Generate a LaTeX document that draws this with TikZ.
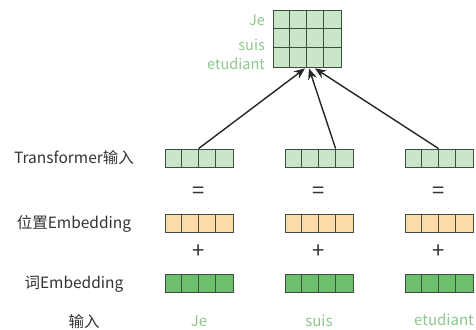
\documentclass[tikz,border=0pt]{standalone}
\usepackage{fontspec}
\setmainfont{Noto Sans CJK SC}
\usetikzlibrary{calc,arrows.meta}
\definecolor{lg}{HTML}{C9E6C9}
\definecolor{og}{HTML}{FDDCAA}
\definecolor{dg}{HTML}{6DBE6D}
\definecolor{bordc}{HTML}{3F4F3F}
\definecolor{txt}{HTML}{333333}
\definecolor{wordc}{HTML}{8CC78C}
\begin{document}
\begin{tikzpicture}[x=1pt,y=-1pt,
  bar/.style={draw=bordc, line width=0.8pt, minimum width=68pt, minimum height=18pt, inner sep=0pt},
  lab/.style={text=txt, font=\fontsize{15.5}{17}\selectfont, inner sep=0pt},
  word/.style={text=wordc, font=\fontsize{15}{17}\selectfont, inner sep=0pt},
  oword/.style={text=wordc, font=\fontsize{14.5}{16}\selectfont, inner sep=0pt},
  op/.style={text=txt, font=\fontsize{22}{24}\selectfont, inner sep=0pt},
  arr/.style={draw=black!85, line width=1.4pt, -{Stealth[length=11pt,width=9pt]}}]
\useasboundingbox (0,0) rectangle (476,329);
% top matrix
\node[bar, fill=lg, minimum height=57pt] (m) at (307,38.5) {};
\foreach \i in {1,2,3}
  \draw[bordc, line width=0.8pt] ($(m.north west)+(17*\i,0)$) -- ($(m.south west)+(17*\i,0)$);
\foreach \j in {1,2}
  \draw[bordc, line width=0.8pt] ($(m.north west)+(0,19*\j)$) -- ($(m.north east)+(0,19*\j)$);
\node[oword, anchor=east] (oje) at (265,20) {Je};
\node[oword, anchor=east] (osuis) at (265,45) {suis};
\node[oword, anchor=east] (oetu) at (265,64) {etudiant};
% rows of bars
\foreach \n/\x in {1/199,2/319,3/439}{
  \node[bar, fill=lg] (t\n) at (\x,158) {};
  \node[bar, fill=og] (p\n) at (\x,223) {};
  \node[bar, fill=dg] (w\n) at (\x,283) {};
  \foreach \b in {t,p,w}
    \foreach \i in {1,2,3}
      \draw[bordc, line width=0.8pt] ($(\b\n.north west)+(17*\i,0)$) -- ($(\b\n.south west)+(17*\i,0)$);
  \node[op] (eq\n) at (\x,193) {=};
  \node[op] (pl\n) at (\x,252) {+};
}
% words
\node[word] (wje) at (199,321) {Je};
\node[word] (wsuis) at (319,321) {suis};
\node[word] (wetu) at (444,320) {etudiant};
% left labels
\node[lab] (l1) at (74,158) {Transformer输入};
\node[lab] (l2) at (74,224) {位置Embedding};
\node[lab] (l3) at (74,284) {词Embedding};
\node[lab] (l4) at (84,322) {输入};
% arrows
\draw[arr] ($(t1.north west)+(34,0)$) -- ($(m.south)+(-2,1)$);
\draw[arr] ($(t2.north west)+(51,0)$) -- ($(m.south)+(2,1)$);
\draw[arr] ($(t3.north west)+(34,0)$) -- ($(m.south)+(8,1)$);
\end{tikzpicture}
\end{document}
